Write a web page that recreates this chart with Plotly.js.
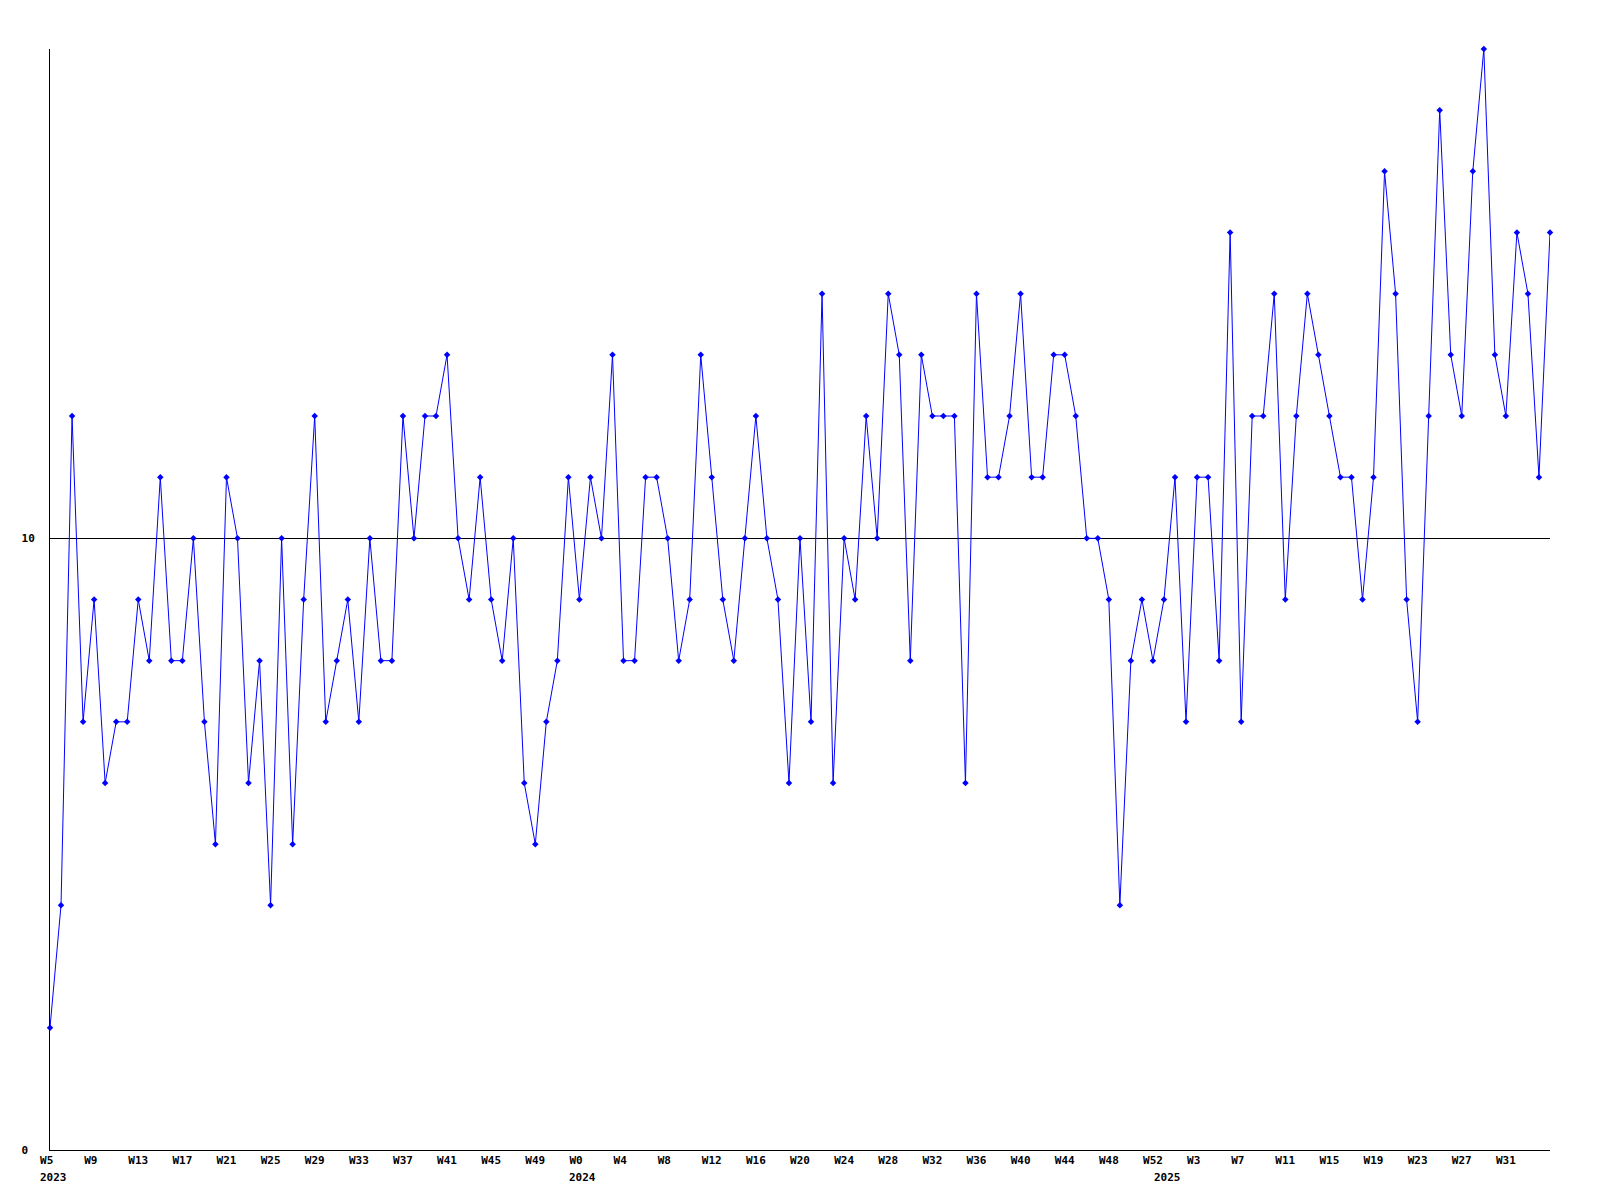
<!DOCTYPE html>
<html>
<head>
<meta charset="utf-8">
<script src="https://cdn.plot.ly/plotly-3.0.1.min.js"></script>
<style>
  html, body { margin: 0; padding: 0; background: #ffffff; }
  #chart { width: 1600px; height: 1200px; }
</style>
</head>
<body>
<div id="chart"></div>
<script>
// ---- data (weekly counts) ----
const years = [2023, 2024, 2025];
const firstWeeks = [5, 0, 0];
const values2023 = [2, 4, 12, 7, 9, 6, 7, 7, 9, 8,
                    11, 8, 8, 10, 7, 5, 11, 10, 6, 8,
                    4, 10, 5, 9, 12, 7, 8, 9, 7, 10,
                    8, 8, 12, 10, 12, 12, 13, 10, 9, 11,
                    9, 8, 10, 6, 5, 7, 8, 11];
const values2024 = [9, 11, 10, 13, 8, 8, 11, 11, 10, 8,
                    9, 13, 11, 9, 8, 10, 12, 10, 9, 6,
                    10, 7, 14, 6, 10, 9, 12, 10, 14, 13,
                    8, 13, 12, 12, 12, 6, 14, 11, 11, 12,
                    14, 11, 11, 13, 13, 12, 10, 10, 9, 4,
                    8, 9, 8];
const values2025 = [9, 11, 7, 11, 11, 8, 15, 7, 12, 12,
                    14, 9, 12, 14, 13, 12, 11, 11, 9, 11,
                    16, 14, 9, 7, 12, 17, 13, 12, 16, 18,
                    13, 12, 15, 14, 11, 15];
const tickLabels = ["W5", "W9", "W13", "W17", "W21", "W25", "W29", "W33", "W37", "W41", "W45", "W49",
                    "W0", "W4", "W8", "W12", "W16", "W20", "W24", "W28", "W32", "W36", "W40", "W44", "W48", "W52",
                    "W3", "W7", "W11", "W15", "W19", "W23", "W27", "W31"];
const yTickValues = [0, 10];
const yTickLabels = ["0", "10"];

// ---- build categories ----
const seriesByYear = [values2023, values2024, values2025];
const cats = [];
const vals = [];
const yearStarts = [];
seriesByYear.forEach((arr, yi) => {
  arr.forEach((v, i) => {
    const c = years[yi] + "-W" + (firstWeeks[yi] + i);
    if (i === 0) yearStarts.push({ cat: c, label: String(years[yi]) });
    cats.push(c);
    vals.push(v);
  });
});
const tickStep = 4;
const tickvals = cats.filter((_, i) => i % tickStep === 0).slice(0, tickLabels.length);
const pad = s => s.length < 3 ? s + "\u00a0".repeat(3 - s.length) : s;
const ticktext = tickLabels.map(pad);
const yPad = s => s.length < 2 ? s + "\u00a0" : s;

const font = { family: "DejaVu Sans Mono, monospace", size: 11, color: "#000000", weight: "bold" };

const trace = {
  type: "scatter",
  mode: "lines+markers",
  x: cats,
  y: vals,
  line: { color: "#0000ff", width: 1 },
  marker: { color: "#0000ff", size: 5, symbol: "diamond" },
  cliponaxis: false,
  hoverinfo: "x+y"
};

const layout = {
  width: 1600,
  height: 1200,
  margin: { l: 50, r: 50, t: 49, b: 50, pad: 0 },
  paper_bgcolor: "#ffffff",
  plot_bgcolor: "#ffffff",
  showlegend: false,
  font: font,
  xaxis: {
    type: "category",
    range: [0, cats.length - 1],
    tickmode: "array",
    tickvals: tickvals,
    ticktext: ticktext,
    ticks: "",
    showgrid: false,
    zeroline: false,
    showline: true,
    linecolor: "#000000",
    linewidth: 1,
    tickfont: font,
    ticklabelstandoff: 0
  },
  yaxis: {
    range: [0, 18],
    tickmode: "array",
    tickvals: yTickValues,
    ticktext: yTickLabels.map(yPad),
    ticks: "",
    showgrid: true,
    gridcolor: "#000000",
    gridwidth: 1,
    zeroline: false,
    showline: true,
    linecolor: "#000000",
    linewidth: 1,
    tickfont: font,
    ticklabelstandoff: 12
  },
  annotations: yearStarts.map(ys => ({
    x: ys.cat,
    xref: "x",
    y: 0,
    yref: "paper",
    xanchor: "left",
    yanchor: "top",
    xshift: -12,
    yshift: -19,
    text: ys.label,
    showarrow: false,
    font: font
  }))
};

Plotly.newPlot("chart", [trace], layout, { displayModeBar: false, staticPlot: true });
</script>
</body>
</html>
